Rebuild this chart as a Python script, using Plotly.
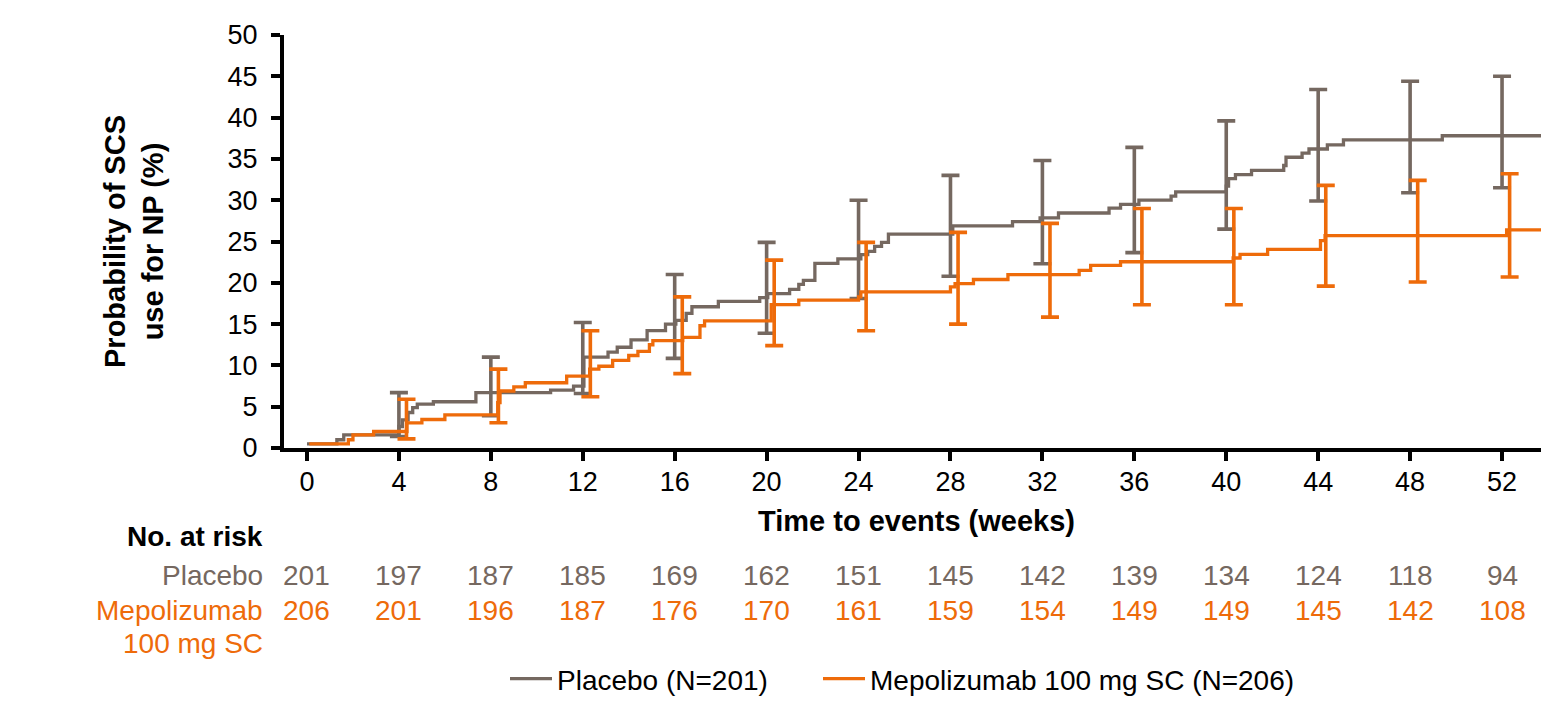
import plotly.graph_objects as go

# ---------------- data ----------------
placebo_t = [0, 1.3, 1.6, 4.0, 4.15, 4.4, 4.6, 4.8, 5.5, 7.35, 10.6, 11.6, 12.05, 13.1, 13.5, 14.1,
             14.8, 15.6, 16.05, 16.5, 16.75, 17.9, 19.7, 20.05, 21.0, 21.4, 21.6, 22.1, 23.1, 24.1,
             24.4, 24.7, 25.0, 25.3, 28.1, 30.7, 31.9, 32.7, 34.9, 35.4, 36.2, 37.6, 37.8, 40.0,
             40.1, 40.4, 41.1, 42.5, 42.6, 43.3, 43.6, 44.4, 45.1, 49.4, 54]
placebo_p = [0.5, 1.0, 1.6, 2.6, 3.4, 4.3, 4.9, 5.3, 5.6, 6.7, 7.0, 7.5, 11.0, 11.6, 12.2, 13.1,
             14.2, 15.0, 15.45, 16.3, 17.1, 17.75, 18.2, 18.7, 19.2, 19.8, 20.3, 22.35, 22.9, 23.4,
             23.8, 24.4, 24.9, 25.9, 26.9, 27.4, 27.85, 28.45, 29.05, 29.5, 30.0, 30.5, 31.0, 31.7,
             32.6, 33.1, 33.6, 34.2, 35.2, 35.7, 36.2, 36.7, 37.3, 37.8, 37.8]

mepo_t = [0.1, 1.8, 2.0, 2.9, 4.35, 5.0, 6.0, 8.3, 8.4, 9.0, 9.5, 11.3, 12.3, 12.7, 13.3, 14.0,
          14.4, 14.9, 15.05, 16.35, 17.1, 17.3, 20.2, 21.4, 24.0, 24.1, 28.0, 28.2, 29.0, 30.5,
          33.6, 34.1, 35.4, 40.3, 40.6, 41.8, 44.1, 44.3, 52.2, 54]
mepo_p = [0.5, 1.0, 1.6, 2.0, 3.05, 3.45, 4.0, 5.5, 6.9, 7.4, 7.9, 8.7, 9.55, 9.9, 10.6, 11.2,
          11.7, 12.5, 13.0, 13.4, 14.8, 15.4, 17.35, 17.9, 18.3, 18.9, 19.5, 19.9, 20.4, 21.0,
          21.5, 22.1, 22.55, 23.0, 23.45, 24.05, 25.1, 25.7, 26.4, 26.4]

ci_weeks = [4, 8, 12, 16, 20, 24, 28, 32, 36, 40, 44, 48, 52]
placebo_upper = [6.7, 11.0, 15.2, 21.0, 24.9, 30.0, 33.0, 34.8, 36.4, 39.6, 43.4, 44.4, 45.0]
placebo_lower = [1.4, 3.9, 6.6, 10.85, 13.9, 18.1, 20.8, 22.3, 23.65, 26.5, 29.9, 30.9, 31.5]
mepo_upper = [5.9, 9.55, 14.2, 18.3, 22.75, 24.9, 26.1, 27.2, 29.0, 29.0, 31.8, 32.4, 33.2]
mepo_lower = [1.1, 3.05, 6.2, 9.0, 12.4, 14.2, 15.0, 15.85, 17.35, 17.35, 19.6, 20.1, 20.7]

risk_weeks = [0, 4, 8, 12, 16, 20, 24, 28, 32, 36, 40, 44, 48, 52]
placebo_risk = [201, 197, 187, 185, 169, 162, 151, 145, 142, 139, 134, 124, 118, 94]
mepo_risk = [206, 201, 196, 187, 176, 170, 161, 159, 154, 149, 149, 145, 142, 108]

x_ticks = [0, 4, 8, 12, 16, 20, 24, 28, 32, 36, 40, 44, 48, 52]

# ---------------- style ----------------
GRAY = "#756860"
ORANGE = "#EE6B0A"
FONT = "Arial, 'Liberation Sans', sans-serif"
DODGE = 0.33  # horizontal offset of the Mepolizumab CI bars

# page is rendered with an 8px body margin; size the figure to fill the rest of the window
FIG_W, FIG_H = 1541, 706
PAGE_OFF = 8

fig = go.Figure()

fig.add_trace(go.Scatter(
    x=placebo_t, y=placebo_p, mode="lines", name="Placebo (N=201)", legendwidth=256,
    line=dict(shape="hv", color=GRAY, width=3.3), hoverinfo="skip"))
fig.add_trace(go.Scatter(
    x=ci_weeks, y=placebo_lower, mode="markers", showlegend=False, hoverinfo="skip",
    marker=dict(size=1, opacity=0),
    error_y=dict(type="data", symmetric=False,
                 array=[u - l for u, l in zip(placebo_upper, placebo_lower)],
                 arrayminus=[0] * len(ci_weeks),
                 color=GRAY, thickness=3.6, width=9)))
fig.add_trace(go.Scatter(
    x=mepo_t, y=mepo_p, mode="lines", name="Mepolizumab 100 mg SC (N=206)",
    line=dict(shape="hv", color=ORANGE, width=3.3), hoverinfo="skip"))
fig.add_trace(go.Scatter(
    x=[w + DODGE for w in ci_weeks], y=mepo_lower, mode="markers", showlegend=False,
    hoverinfo="skip", marker=dict(size=1, opacity=0),
    error_y=dict(type="data", symmetric=False,
                 array=[u - l for u, l in zip(mepo_upper, mepo_lower)],
                 arrayminus=[0] * len(ci_weeks),
                 color=ORANGE, thickness=3.6, width=9)))

# plot area in page pixels
PLOT_LEFT, PLOT_RIGHT = 284, 1548
PLOT_TOP, PLOT_BOTTOM = 35, 448
PW = PLOT_RIGHT - PLOT_LEFT
PH = PLOT_BOTTOM - PLOT_TOP


def py(pix):
    return (PLOT_BOTTOM - pix) / PH


def px(pix):
    return (pix - PLOT_LEFT) / PW


annotations = []
annotations.append(dict(
    text="<b>Probability of SCS<br>use for NP (%)</b>", xref="paper", yref="paper",
    x=px(134), y=py(242), xanchor="center", yanchor="middle", textangle=-90, showarrow=False,
    font=dict(family=FONT, size=29, color="black")))
annotations.append(dict(
    text="<b>Time to events (weeks)</b>", xref="paper", yref="paper",
    x=0.5, y=py(521), xanchor="center", yanchor="middle", showarrow=False,
    font=dict(family=FONT, size=29, color="black")))

LABEL_X = px(265)
ROW_NO, ROW_PBO, ROW_MEPO, ROW_MEPO2 = 536, 575, 610, 643
annotations.append(dict(text="<b>No. at risk</b>", xref="paper", yref="paper", x=LABEL_X,
                        y=py(ROW_NO), xanchor="right", yanchor="middle", showarrow=False,
                        font=dict(family=FONT, size=28, color="black")))
annotations.append(dict(text="Placebo", xref="paper", yref="paper", x=LABEL_X,
                        y=py(ROW_PBO), xanchor="right", yanchor="middle", showarrow=False,
                        font=dict(family=FONT, size=28, color=GRAY)))
annotations.append(dict(text="Mepolizumab", xref="paper", yref="paper", x=LABEL_X,
                        y=py(ROW_MEPO), xanchor="right", yanchor="middle", showarrow=False,
                        font=dict(family=FONT, size=28, color=ORANGE)))
annotations.append(dict(text="100 mg SC", xref="paper", yref="paper", x=LABEL_X,
                        y=py(ROW_MEPO2), xanchor="right", yanchor="middle", showarrow=False,
                        font=dict(family=FONT, size=28, color=ORANGE)))
for w, n in zip(risk_weeks, placebo_risk):
    annotations.append(dict(text=str(n), xref="x", yref="paper", x=w, y=py(ROW_PBO),
                            xanchor="center", yanchor="middle", showarrow=False,
                            font=dict(family=FONT, size=28, color=GRAY)))
for w, n in zip(risk_weeks, mepo_risk):
    annotations.append(dict(text=str(n), xref="x", yref="paper", x=w, y=py(ROW_MEPO),
                            xanchor="center", yanchor="middle", showarrow=False,
                            font=dict(family=FONT, size=28, color=ORANGE)))

axis_common = dict(showline=True, linecolor="black", linewidth=4, ticks="outside",
                   ticklen=9, tickwidth=4, tickcolor="black", showgrid=False, zeroline=False,
                   tickfont=dict(family=FONT, size=27, color="black"))

fig.update_layout(
    width=FIG_W, height=FIG_H, autosize=False,
    margin=dict(l=PLOT_LEFT - PAGE_OFF, r=FIG_W - (PLOT_RIGHT - PAGE_OFF),
                t=PLOT_TOP - PAGE_OFF, b=FIG_H - (PLOT_BOTTOM - PAGE_OFF), pad=0),
    paper_bgcolor="white", plot_bgcolor="white",
    font=dict(family=FONT, color="black"),
    xaxis=dict(range=[-1, 54], tickvals=x_ticks, ticklabelstandoff=-2, **axis_common),
    yaxis=dict(range=[0, 50], tick0=0, dtick=5, ticklabelstandoff=8, **axis_common),
    showlegend=True,
    legend=dict(orientation="h", x=px(505), xanchor="left", y=py(679), yanchor="middle",
                font=dict(family=FONT, size=28, color="black"), bgcolor="rgba(0,0,0,0)",
                itemwidth=42, tracegroupgap=0, borderwidth=0),
    annotations=annotations,
)

fig.write_html("out.html")
